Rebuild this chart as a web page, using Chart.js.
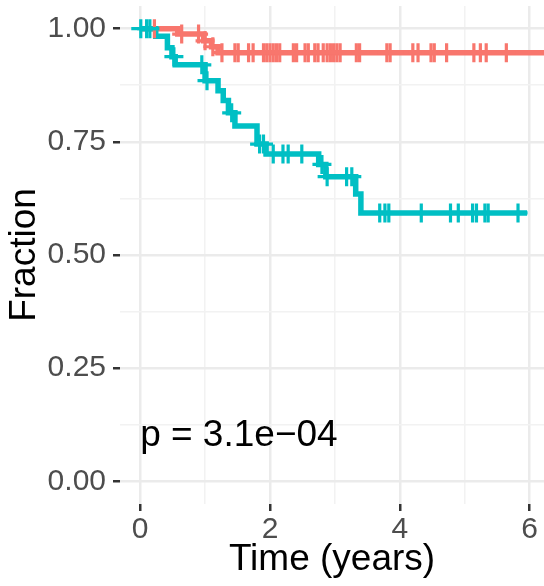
<!DOCTYPE html>
<html>
<head>
<meta charset="utf-8">
<script src="https://cdn.jsdelivr.net/npm/chart.js@4.4.1/dist/chart.umd.min.js"></script>
<style>
  html, body { margin: 0; padding: 0; background: #ffffff; }
  #wrap { width: 544px; height: 586px; }
</style>
</head>
<body>
<div id="wrap"><canvas id="c" width="544" height="586"></canvas></div>
<script>
// ---- data ----
const redTimes  = [0, 0.58, 0.98, 1.1, 1.2, 6.3];
const redSurv   = [1, 0.988, 0.973, 0.96, 0.947, 0.947];
const redCensor = [0.22, 0.64, 0.9, 1.0, 1.12, 1.26, 1.46, 1.51, 1.67, 1.74, 1.9, 1.95, 2.0, 2.05, 2.1, 2.15,
                   2.36, 2.41, 2.54, 2.59, 2.69, 2.74, 2.82, 2.88, 2.93, 2.98, 3.03, 3.08, 3.33, 3.38,
                   3.8, 3.85, 4.2, 4.28, 4.48, 4.53, 4.72, 5.14, 5.24, 5.33, 5.64];

const tealTimes  = [0, 0.24, 0.42, 0.49, 0.54, 1.0, 1.2, 1.28, 1.36, 1.46, 1.8, 1.94, 2.75, 2.86, 3.32, 3.4, 5.96];
const tealSurv   = [1, 0.983, 0.958, 0.938, 0.92, 0.885, 0.863, 0.841, 0.814, 0.785, 0.745, 0.723, 0.70, 0.673, 0.635, 0.593, 0.593];
const tealCensor = [0.01, 0.1, 0.15, 0.52, 0.95, 1.03, 1.41, 1.84, 1.9, 2.05, 2.2, 2.28, 2.49, 2.8, 2.88,
                    3.18, 3.26, 3.69, 3.77, 3.83, 4.33, 4.78, 4.9, 5.12, 5.18, 5.31, 5.36, 5.82];

const xMajor = [0, 2, 4, 6];
const xLabels = ['0', '2', '4', '6'];
const xMinor = [1, 3, 5];
const yMajor = [0, 0.25, 0.5, 0.75, 1];
const yLabels = ['0.00', '0.25', '0.50', '0.75', '1.00'];
const yMinor = [0.125, 0.375, 0.625, 0.875];

const pText = 'p = 3.1e\u221204';
const pX = 0;
const pY = 0.1;

const xTitle = 'Time (years)';
const yTitle = 'Fraction';

// ---- helpers ----
function stepAt(times, surv, t) {
  let v = surv[0];
  for (let i = 0; i < times.length; i++) { if (times[i] <= t) v = surv[i]; }
  return v;
}
const pts = (xs, ys) => xs.map((x, i) => ({x: x, y: ys[i]}));
const censorPts = (cs, times, surv) => cs.map(t => ({x: t, y: stepAt(times, surv, t)}));

const RED = '#F8766D', TEAL = '#00BFC4';
const MAJOR_GRID = '#EBEBEB', MINOR_GRID = '#F2F2F2';
const isMinor = (arr, v) => arr.some(m => Math.abs(m - v) < 1e-9);

const pTextPlugin = {
  id: 'pText',
  afterDatasetsDraw(chart) {
    const {ctx, scales} = chart;
    ctx.save();
    ctx.font = '37px "Liberation Sans", Arial, sans-serif';
    ctx.fillStyle = '#000000';
    ctx.textAlign = 'left';
    ctx.textBaseline = 'middle';
    ctx.fillText(pText, scales.x.getPixelForValue(pX), scales.y.getPixelForValue(pY));
    ctx.restore();
  }
};

const tickFont = {family: '"Liberation Sans", Arial, sans-serif', size: 30};
const titleFont = {family: '"Liberation Sans", Arial, sans-serif', size: 37};

new Chart(document.getElementById('c'), {
  type: 'scatter',
  data: {
    datasets: [
      { label: 'red', data: pts(redTimes, redSurv), showLine: true, stepped: true,
        borderColor: RED, borderWidth: 5.5, pointRadius: 0, order: 4, fill: false },
      { label: 'teal', data: pts(tealTimes, tealSurv), showLine: true, stepped: true,
        borderColor: TEAL, borderWidth: 5.5, pointRadius: 0, order: 3, fill: false },
      { label: 'redC', data: censorPts(redCensor, redTimes, redSurv), showLine: false,
        pointStyle: 'cross', pointRadius: 9.5, borderColor: RED, pointBorderWidth: 3.2, borderWidth: 3.2, order: 2 },
      { label: 'tealC', data: censorPts(tealCensor, tealTimes, tealSurv), showLine: false,
        pointStyle: 'cross', pointRadius: 9.5, borderColor: TEAL, pointBorderWidth: 3.2, borderWidth: 3.2, order: 1 }
    ]
  },
  options: {
    responsive: false,
    animation: false,
    devicePixelRatio: 1,
    layout: { autoPadding: false, padding: { top: 6, right: 0, left: 0, bottom: 0 } },
    plugins: { legend: { display: false }, tooltip: { enabled: false } },
    scales: {
      x: {
        type: 'linear', min: -0.31, max: 6.22,
        afterBuildTicks(scale) {
          scale.ticks = xMajor.concat(xMinor).sort((a, b) => a - b).map(v => ({value: v}));
        },
        afterFit(scale) { scale.height = 82; scale.paddingLeft = 0; scale.paddingRight = 0; },
        ticks: {
          autoSkip: false, maxRotation: 0, padding: 1, color: '#4D4D4D', font: tickFont,
          callback(v) { const i = xMajor.indexOf(v); return i >= 0 ? xLabels[i] : ''; }
        },
        grid: {
          color: c => (c.tick && isMinor(xMinor, c.tick.value)) ? MINOR_GRID : MAJOR_GRID,
          lineWidth: c => (c.tick && isMinor(xMinor, c.tick.value)) ? 1.5 : 2.5,
          tickColor: c => (c.tick && isMinor(xMinor, c.tick.value)) ? 'rgba(0,0,0,0)' : '#333333',
          tickWidth: 2.5, tickLength: 7, drawTicks: true
        },
        border: { display: false },
        title: { display: true, text: xTitle, color: '#000000', font: titleFont, padding: { top: 0, bottom: 4 } }
      },
      y: {
        type: 'linear', min: -0.05, max: 1.05,
        afterBuildTicks(scale) {
          scale.ticks = yMajor.concat(yMinor).sort((a, b) => a - b).map(v => ({value: v}));
        },
        afterFit(scale) { scale.width = 120; scale.paddingTop = 0; scale.paddingBottom = 0; },
        ticks: {
          autoSkip: false, padding: 7, color: '#4D4D4D', font: tickFont,
          callback(v) { const i = yMajor.indexOf(v); return i >= 0 ? yLabels[i] : ''; }
        },
        grid: {
          color: c => (c.tick && isMinor(yMinor, c.tick.value)) ? MINOR_GRID : MAJOR_GRID,
          lineWidth: c => (c.tick && isMinor(yMinor, c.tick.value)) ? 1.5 : 2.5,
          tickColor: c => (c.tick && isMinor(yMinor, c.tick.value)) ? 'rgba(0,0,0,0)' : '#333333',
          tickWidth: 2.5, tickLength: 7, drawTicks: true
        },
        border: { display: false },
        title: { display: true, text: yTitle, color: '#000000', font: titleFont, padding: { top: 3, bottom: 0 } }
      }
    }
  },
  plugins: [pTextPlugin]
});
</script>
</body>
</html>
